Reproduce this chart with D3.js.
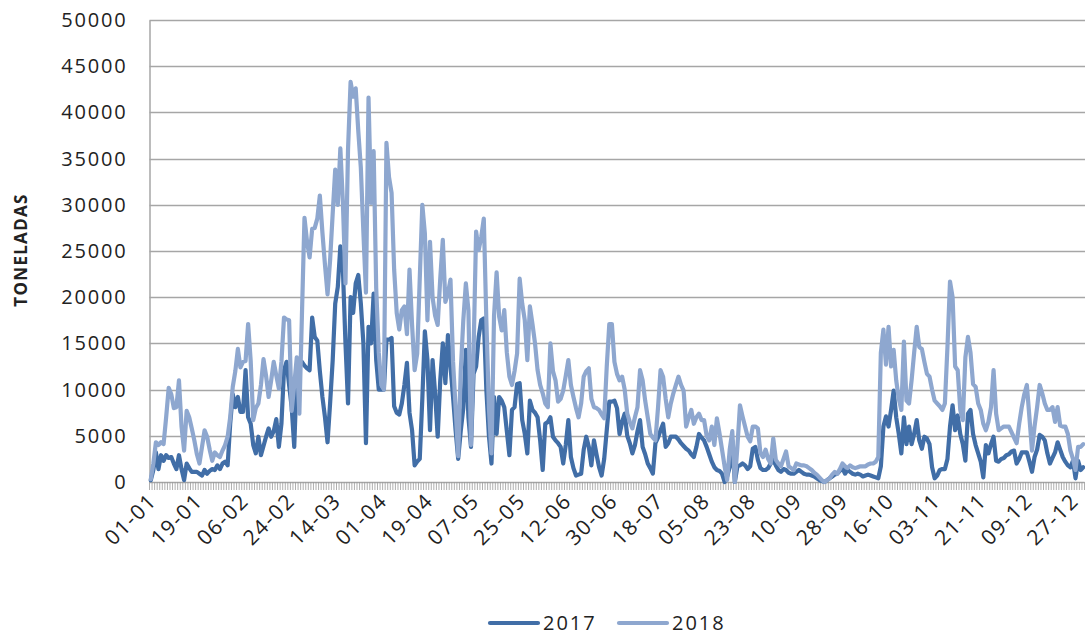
<!DOCTYPE html>
<html>
<head>
<meta charset="utf-8">
<script src="https://cdn.jsdelivr.net/npm/d3@7"></script>
<style>
  body { margin: 0; background: #fff; }
  text { font-family: "Open Sans", "Noto Sans", sans-serif; fill: #222; }
</style>
</head>
<body>
<svg id="chart" width="1085" height="637"></svg>
<script>
// tonnes per day, 01-01 .. 31-12 (one row = 18 days)
const year2017 = [
  200,1300,3200,1400,2900,2300,2900,2600,2700,2000,1400,2900,1400,200,2000,1500,1100,1100,
  1100,900,700,1300,900,1200,1400,1300,1800,1400,2000,2200,1800,6300,9500,8100,9200,7600,
  7600,12100,7000,6300,4000,3100,4900,2900,3900,4900,5800,4900,5500,6800,3800,6300,12100,13000,
  10500,8100,3800,11700,12400,13000,12600,12300,12100,17800,15700,15300,12000,9200,7000,4300,8500,13100,
  19300,21100,25500,23000,15000,8500,20000,18300,21500,22400,19300,15000,4200,16800,15000,20400,13200,10000,
  10000,10000,15400,15400,15600,8200,7500,7300,8500,10500,12900,7500,5600,1800,2200,2500,9000,16300,
  13200,5600,13200,9600,4900,11000,15000,10700,15900,12500,9200,5600,2500,5500,8000,14300,7000,3800,
  11700,12500,15700,17500,17700,10000,5000,2000,9200,5200,9200,8800,8100,5500,2900,7800,8100,10600,
  10700,6700,5200,3100,8800,7800,7500,7000,4500,1300,6300,6500,7000,4900,4500,4200,3800,2000,
  4000,6700,2700,1500,700,800,900,3500,4900,3800,1800,4500,3000,1600,700,2500,5600,8700,
  8700,8800,8000,5200,6500,7400,5000,4200,3100,4000,5500,6700,3800,3000,2000,1500,900,4200,
  4800,5600,6300,3800,4200,4900,4900,4900,4600,4200,3900,3600,3400,3000,2700,3800,5200,4800,
  4500,3800,3000,2200,1600,1300,1200,900,0,600,1600,4500,0,1700,1800,2000,1800,1400,
  1700,3600,3800,2400,1500,1300,1300,1500,2000,2400,1800,1300,1100,1400,1300,1000,900,900,
  1100,1300,1100,900,800,800,700,600,400,200,100,0,200,400,600,800,900,1200,
  1500,900,1300,1100,900,800,900,800,600,700,800,700,600,500,400,1700,6000,7100,
  6000,7800,9900,7000,5200,3100,7000,4100,6000,4100,5200,6700,4500,3600,4900,4700,4100,1600,
  400,700,1300,1400,1400,2500,6000,8300,5600,7200,5200,4100,2300,7400,7800,5200,4000,3100,
  2200,500,4000,3100,4100,4900,2300,2200,2500,2600,2900,3000,3300,3400,2000,2500,3200,3200,
  3200,2200,1100,2700,3500,5100,4900,4500,3100,2000,2600,3200,4300,3500,2700,2200,1800,1600,
  2300,400,2300,1300,1600
];

const year2018 = [
  300,2000,4300,4000,4300,4100,7000,10200,9500,8000,8100,11000,6000,3400,7700,7000,5800,4500,
  3000,2000,3800,5600,4900,3500,2300,3200,2900,2700,3400,4000,4900,7000,10300,12000,14400,12400,
  13000,13100,17100,13100,6700,8000,8500,10500,13300,11500,9200,11000,13000,11500,10100,13000,17800,17600,
  17500,7700,10500,13500,7400,18000,28600,26000,24300,27400,27500,28500,31000,27000,23500,20300,24000,29000,
  33800,30000,36100,30200,21500,36000,43300,41700,42600,38000,34000,27000,20500,41600,30200,35800,21000,14000,
  10500,10000,36700,33000,31300,23000,18300,16500,18600,19000,16000,23000,17000,12100,13900,22000,30000,26900,
  17500,26000,20000,18000,17000,22000,26200,19500,20400,21900,13000,8000,2800,12000,17500,21500,18600,4000,
  14000,27100,25100,26500,28500,17500,8000,3100,18000,22700,17900,16400,18600,14000,11400,10500,12000,13900,
  22000,19300,17500,13200,19000,17100,15000,12100,10500,9600,8500,8100,15000,12000,11000,8700,9000,9900,
  11500,13200,10500,9200,8000,7000,8500,11400,12000,12300,9000,8100,8000,7800,7300,6900,12500,17100,
  17100,13000,11700,11000,11400,10000,7400,6500,5800,7000,8100,12100,11000,8800,7000,5200,4800,4500,
  8000,12100,11400,9000,7000,8500,9600,10500,11400,10500,9900,6000,7000,7800,6300,7000,7400,6700,
  6700,5000,4500,6000,4000,6900,5300,3500,1700,200,3500,5500,0,3800,8300,7100,6000,4900,
  4400,6000,6000,5800,3100,2700,3500,2500,2000,4700,2400,2000,1700,2500,3300,1700,1500,1300,
  2000,1900,1800,1800,1700,1500,1300,1000,800,500,200,0,200,400,800,1100,900,1400,
  2000,1700,1500,1800,1600,1500,1600,1700,1700,1700,1900,2000,2000,2200,2700,14000,16500,12700,
  16800,12500,14300,11000,9000,7800,15200,8800,8500,11000,14000,16800,14600,14400,13000,11700,11400,10000,
  8800,8500,8200,7800,8500,14600,21700,20000,12500,12100,7800,6700,13500,15700,14000,10600,10300,8500,
  7800,6300,5600,6500,8100,12100,7400,5600,5800,6000,6000,6000,5400,4800,4200,6300,8100,9500,
  10500,7000,3400,6000,8100,10500,9600,8500,7800,7800,8100,6500,8100,6100,6000,6000,5200,3400,
  2500,1300,3800,3800,4100
];

const tickLabels = ["01-01","19-01","06-02","24-02","14-03","01-04","19-04","07-05","25-05","12-06",
  "30-06","18-07","05-08","23-08","10-09","28-09","16-10","03-11","21-11","09-12","27-12"];
const yTicks = [0,5000,10000,15000,20000,25000,30000,35000,40000,45000,50000];
const seriesNames = ["2017", "2018"];
const colors = ["#416ea7", "#8ea7cf"];

const plotLeft = 149.5, plotRight = 1084.5, plotTop = 20, plotBottom = 482;
const svg = d3.select("#chart");
svg.append("rect").attr("width", 1085).attr("height", 637).attr("fill", "#fff");

const days = d3.range(year2017.length);
const x = d3.scaleBand().domain(days).range([plotLeft, plotRight]).paddingInner(0).paddingOuter(0);
const y = d3.scaleLinear().domain([0, 50000]).range([plotBottom, plotTop]);
const cx = i => x(i) + x.bandwidth() / 2;

// gridlines
svg.append("g").selectAll("line").data(yTicks.slice(1)).enter().append("line")
  .attr("x1", plotLeft).attr("x2", 1085)
  .attr("y1", d => Math.round(y(d)) + 0.5).attr("y2", d => Math.round(y(d)) + 0.5)
  .attr("stroke", "#a6a6a6").attr("stroke-width", 1.5);

// y axis
const yAxis = svg.append("g").attr("transform", `translate(${plotLeft},0)`)
  .call(d3.axisLeft(y).tickValues(yTicks).tickSize(0).tickPadding(22).tickFormat(d3.format("d")));
yAxis.select(".domain").attr("stroke", "#a6a6a6").attr("stroke-width", 1.5);
yAxis.selectAll("text").attr("font-size", 20).attr("fill", "#222")
  .attr("letter-spacing", 1.8)
  .style("font-family", '"Open Sans", sans-serif');

svg.append("text").attr("transform", "translate(27,250) rotate(-90)")
  .attr("text-anchor", "middle").attr("font-size", 17).attr("font-weight", "bold")
  .attr("letter-spacing", 1.3)
  .text("TONELADAS");

// x axis: baseline + one tick per day
svg.append("line").attr("x1", plotLeft).attr("x2", plotRight)
  .attr("y1", plotBottom + 0.5).attr("y2", plotBottom + 0.5)
  .attr("stroke", "#a6a6a6").attr("stroke-width", 1.5);
svg.append("g").selectAll("line").data(d3.range(days.length + 1)).enter().append("line")
  .attr("x1", d => (d < days.length ? x(d) : plotRight))
  .attr("x2", d => (d < days.length ? x(d) : plotRight))
  .attr("y1", plotBottom).attr("y2", plotBottom + 8)
  .attr("stroke", "#9a9a9a").attr("stroke-width", 0.8);

svg.append("g").selectAll("text").data(tickLabels).enter().append("text")
  .attr("transform", (d, k) => `translate(${cx(k * 18) + 2},${plotBottom + 15}) rotate(-45)`)
  .attr("text-anchor", "end").attr("dy", "0.35em").attr("font-size", 21)
  .attr("letter-spacing", 1.6)
  .text(d => d);

// series
const line = d3.line().x((d, i) => cx(i)).y(d => y(d));
[year2017, year2018].forEach((s, k) => {
  svg.append("path").datum(s)
    .attr("fill", "none").attr("stroke", colors[k]).attr("stroke-width", 4.2)
    .attr("stroke-linejoin", "round").attr("stroke-linecap", "round")
    .attr("d", line);
});

// legend
const legend = svg.append("g").attr("transform", "translate(490,623)");
seriesNames.forEach((n, k) => {
  const g = legend.append("g").attr("transform", `translate(${k * 129},0)`);
  g.append("line").attr("x1", 0).attr("x2", 48).attr("stroke", colors[k])
    .attr("stroke-width", 4.2).attr("stroke-linecap", "round");
  g.append("text").attr("x", 53).attr("dy", "0.35em").attr("font-size", 20)
    .attr("letter-spacing", 2).text(n);
});
</script>
</body>
</html>
